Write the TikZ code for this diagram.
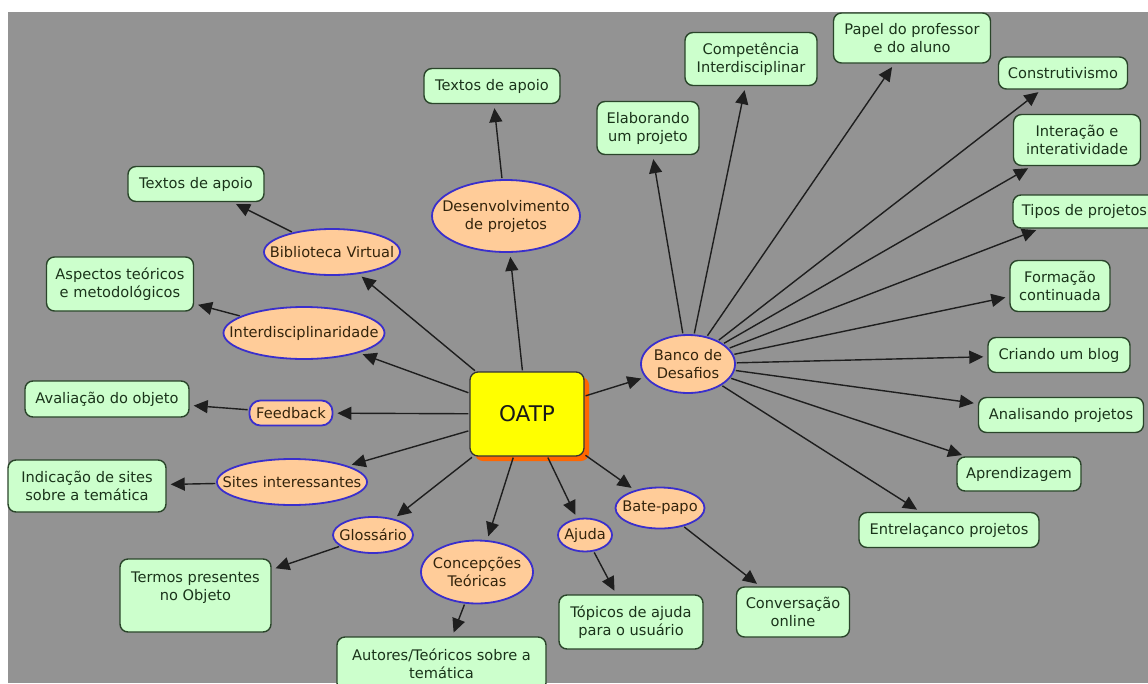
\documentclass[tikz,border=0pt]{standalone}
\usepackage{fontspec}
\setmainfont{DejaVu Sans}
\usetikzlibrary{arrows.meta,shapes.geometric,shadows}
\definecolor{bgGray}{HTML}{939393}
\definecolor{boxFill}{HTML}{CCFFCC}
\definecolor{boxLine}{HTML}{2A452A}
\definecolor{boxText}{HTML}{1A331A}
\definecolor{ellFill}{HTML}{FFCC99}
\definecolor{ellLine}{HTML}{3A2FCC}
\definecolor{ellText}{HTML}{33240C}
\definecolor{lineC}{HTML}{1E1E1E}
\definecolor{oatpFill}{HTML}{FFFF00}
\definecolor{oatpShadow}{HTML}{FF6600}
\begin{document}
\begin{tikzpicture}[x=1pt,y=-1pt,
  txtfont/.style={font=\fontsize{14.6}{18}\selectfont},
  leaf/.style 2 args={rectangle, draw=boxLine, fill=boxFill, line width=1.4pt,
    rounded corners=8pt, text=boxText, txtfont, align=center, inner sep=0pt,
    minimum width=#1pt, minimum height=#2pt},
  topic/.style 2 args={ellipse, draw=ellLine, fill=ellFill, line width=1.8pt,
    inner sep=0pt, minimum width=#1pt, minimum height=#2pt},
  pill/.style 2 args={rectangle, draw=ellLine, fill=ellFill, line width=1.8pt,
    rounded corners=11pt, text=ellText, txtfont, inner sep=0pt,
    minimum width=#1pt, minimum height=#2pt},
  etext/.style={text=ellText, txtfont, align=center, inner sep=0pt},
  core/.style={rectangle, draw=black!80, fill=oatpFill, line width=1.3pt,
    rounded corners=8pt, minimum width=114pt, minimum height=84pt,
    font=\fontsize{21.6}{26}\selectfont, text=black!90,
    drop shadow={shadow xshift=5pt, shadow yshift=-5pt, fill=oatpShadow, opacity=1}},
  conn/.style={draw=lineC, line width=1.4pt,
    -{Triangle[length=14pt,width=13pt]}, shorten >=4pt, shorten <=1pt}
]
\useasboundingbox (0,0) rectangle (1148,683);
\clip (0,0) rectangle (1148,683);
\fill[white] (0,0) rectangle (1148,683);
\fill[bgGray] (8,12) rectangle (1148,683);

% central node
\node[core] (oatp) at (527,414) {OATP};

% topics (ellipses)
\node[topic={136}{46}] (bib) at (332,252) {};
\node[etext] (bib-t) at (bib) {Biblioteca Virtual};
\node[topic={148}{72}] (desenv) at (506,216) {};
\node[etext] (desenv-t) at (desenv) {Desenvolvimento\\de projetos};
\node[topic={161}{52}] (interd) at (304,333) {};
\node[etext] (interd-t) at (interd) {Interdisciplinaridade};
\node[pill={83}{25}] (feed) at (291,413) {Feedback};
\node[topic={150}{46}] (sites) at (292,482) {};
\node[etext] (sites-t) at (sites) {Sites interessantes};
\node[topic={80}{36}] (gloss) at (373,535) {};
\node[etext] (gloss-t) at (gloss) {Glossário};
\node[topic={112}{63}] (concep) at (477,572) {};
\node[etext] (concep-t) at (concep) {Concepções\\Teóricas};
\node[topic={54}{33}] (ajuda) at (585,535) {};
\node[etext] (ajuda-t) at (ajuda) {Ajuda};
\node[topic={89}{41}] (bate) at (660,508) {};
\node[etext] (bate-t) at (bate) {Bate-papo};
\node[topic={94}{58}] (banco) at (688,364) {};
\node[etext] (banco-t) at (banco) {Banco de\\Desafios};

% leaves (green boxes)
\node[leaf={136}{35}] (txtL) at (196,184) {Textos de apoio};
\node[leaf={136}{35}] (txtT) at (492,86) {Textos de apoio};
\node[leaf={102}{53}] (elab) at (648,128) {Elaborando\\um projeto};
\node[leaf={132}{53}] (comp) at (751,59) {Competência\\Interdisciplinar};
\node[leaf={157}{50}] (papel) at (912,38) {Papel do professor\\e do aluno};
\node[leaf={129}{32}] (constr) at (1063,73) {Construtivismo};
\node[leaf={127}{51}] (inter) at (1077,140) {Interação e\\interatividade};
\node[leaf={143}{33}] (tipos) at (1084.5,211.5) {Tipos de projetos};
\node[leaf={100}{51}] (form) at (1060,286) {Formação\\continuada};
\node[leaf={142}{35}] (blog) at (1059,355) {Criando um blog};
\node[leaf={165}{35}] (anal) at (1061,415) {Analisando projetos};
\node[leaf={124}{34}] (aprend) at (1019,474) {Aprendizagem};
\node[leaf={180}{35}] (entre) at (949,530) {Entrelaçanco projetos};
\node[leaf={113}{50}] (conv) at (793,612) {Conversação\\online};
\node[leaf={144}{54}] (topic) at (631,622) {Tópicos de ajuda\\para o usuário};
\node[leaf={209}{54}] (autor) at (441.5,664) {Autores/Teóricos sobre a\\temática};
\node[leaf={151}{73}] (termos) at (195.5,595.5) {Termos presentes\\no Objeto\\\mbox{}};
\node[leaf={158}{52}] (indic) at (87,486) {Indicação de sites\\sobre a temática};
\node[leaf={164}{36}] (aval) at (107,399) {Avaliação do objeto};
\node[leaf={147}{54}] (aspec) at (120,284) {Aspectos teóricos\\e metodológicos};

% connectors from OATP
\draw[conn] (oatp) -- (bib);
\draw[conn] (oatp) -- (desenv);
\draw[conn] (oatp) -- (interd);
\draw[conn] (oatp) -- (feed);
\draw[conn] (oatp) -- (sites);
\draw[conn] (oatp) -- (gloss);
\draw[conn] (oatp) -- (concep);
\draw[conn] (oatp) -- (ajuda);
\draw[conn] (oatp) -- (bate);
\draw[conn] (oatp) -- (banco);

% second level
\draw[conn] (bib) -- (txtL);
\draw[conn] (desenv) -- (txtT);
\draw[conn] (interd) -- (aspec);
\draw[conn] (feed) -- (aval);
\draw[conn] (sites) -- (indic);
\draw[conn] (gloss) -- (termos);
\draw[conn] (concep) -- (autor);
\draw[conn] (ajuda) -- (topic);
\draw[conn] (bate) -- (conv);

% Banco de Desafios fan
\draw[conn] (banco) -- (elab);
\draw[conn] (banco) -- (comp);
\draw[conn] (banco) -- (papel);
\draw[conn] (banco) -- (constr);
\draw[conn] (banco) -- (inter);
\draw[conn] (banco) -- (tipos);
\draw[conn] (banco) -- (form);
\draw[conn] (banco) -- (blog);
\draw[conn] (banco) -- (anal);
\draw[conn] (banco) -- (aprend);
\draw[conn] (banco) -- (entre);
\end{tikzpicture}
\end{document}
